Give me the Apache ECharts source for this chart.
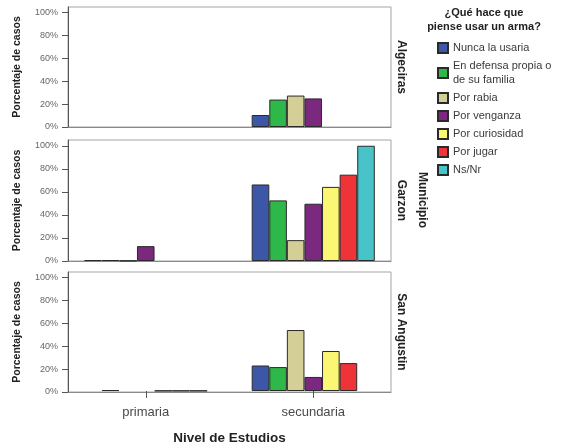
<!DOCTYPE html>
<html>
<head>
<meta charset="utf-8">
<script src="https://cdn.jsdelivr.net/npm/echarts@6/dist/echarts.min.js"></script>
<style>html,body{margin:0;padding:0;background:#fff}#c{width:566px;height:446px}</style>
</head>
<body>
<div id="c"></div>
<script>
// ---- data ----
const categories = ['primaria', 'secundaria'];
const seriesNames = ['Nunca la usaria', 'En defensa propia o\nde su familia', 'Por rabia', 'Por venganza', 'Por curiosidad', 'Por jugar', 'Ns/Nr'];
const seriesColors = ['#3c56a8', '#2fb84a', '#d4cf97', '#7a297e', '#fbf774', '#ee3339', '#48c3c8'];
const panelNames = ['Algeciras', 'Garzon', 'San Angustin'];
const yTicks = [0, 20, 40, 60, 80, 100];
// values per series (order of seriesNames): [primaria, secundaria]
const algecirasValues = [[null, 10.5], [null, 24], [null, 27.5], [null, 25], [null, null], [null, null], [null, null]];
const garzonValues = [[0.8, 66.4], [0.8, 52.6], [0.3, 18.1], [12.9, 49.7], [null, 64.3], [null, 74.9], [null, 100]];
const sanAngustinValues = [[null, 22.5], [0.8, 21.1], [null, 53.8], [null, 12.4], [0.3, 35.3], [0.3, 24.6], [0.3, null]];
const panelValues = [algecirasValues, garzonValues, sanAngustinValues];

// ---- layout ----
const FONT = '"Liberation Sans", Arial, sans-serif';
const Y_MAX = 105;
const panels = [
  { top: 7, height: 120 },
  { top: 140, height: 121 },
  { top: 272, height: 120 }
];
// frame grids (border + y axis) and bar grids (slightly wider, for category placement)
const frameGrids = panels.map(p => ({ left: 68, right: 175, top: p.top, height: p.height, show: true, borderColor: '#a5a5a5', borderWidth: 1, backgroundColor: '#fff' }));
const barGrids = panels.map(p => ({ left: 62, right: 169, top: p.top, height: p.height, show: false }));
const allGrids = frameGrids.concat(barGrids);
const N = panels.length;

const chart = echarts.init(document.getElementById('c'), null, { renderer: 'canvas', width: 566, height: 446 });

const xAxes = [];
const yAxes = [];
// frame axes
panels.forEach((p, i) => {
  xAxes.push({
    type: 'category', gridIndex: i, data: categories,
    axisLine: { show: true, lineStyle: { color: '#8a8a8a', width: 1 } },
    axisTick: { show: false }, axisLabel: { show: false }
  });
  yAxes.push({
    type: 'value', gridIndex: i, min: 0, max: Y_MAX,
    splitLine: { show: false },
    axisLine: { show: true, lineStyle: { color: '#555', width: 1 } },
    axisTick: { show: true, length: 6, customValues: yTicks, lineStyle: { color: '#555' } },
    axisLabel: { customValues: yTicks, formatter: v => v + '%', fontSize: 9, color: '#666', fontFamily: FONT, margin: 10 },
    name: 'Porcentaje de casos', nameLocation: 'middle', nameGap: 45, nameRotate: 90,
    nameTextStyle: { fontSize: 10.5, fontWeight: 'bold', color: '#222', fontFamily: FONT }
  });
});
// bar axes
panels.forEach((p, i) => {
  const last = i === N - 1;
  xAxes.push({
    type: 'category', gridIndex: N + i, data: categories,
    axisLine: { show: false },
    axisTick: { show: last, alignWithLabel: true, length: 7, lineStyle: { color: '#555' } },
    axisLabel: { show: last, fontSize: 13, color: '#4a4a4a', fontFamily: FONT, margin: 15 },
    name: last ? 'Nivel de Estudios' : '', nameLocation: 'middle', nameGap: 40,
    nameTextStyle: { fontSize: 13.5, fontWeight: 'bold', color: '#222', fontFamily: FONT }
  });
  yAxes.push({
    type: 'value', gridIndex: N + i, min: 0, max: Y_MAX, show: false, splitLine: { show: false }
  });
});

const series = [];
panelValues.forEach((vals, p) => {
  vals.forEach((data, s) => {
    series.push({
      type: 'bar', name: seriesNames[s], xAxisIndex: N + p, yAxisIndex: N + p,
      data: data, barGap: '0%', barCategoryGap: '26.5%',
      itemStyle: { color: seriesColors[s], borderColor: '#2a2a2a', borderWidth: 1 },
      emphasis: { disabled: true }, animation: false
    });
  });
});

const graphics = [
  { type: 'text', x: 484, y: 6, style: { text: '¿Qué hace que\npiense usar un arma?', font: 'bold 11px ' + FONT, fill: '#222', align: 'center', lineHeight: 14 } }
];
panels.forEach((g, i) => {
  graphics.push({
    type: 'text', x: 401, y: g.top + g.height / 2, rotation: -Math.PI / 2,
    style: { text: panelNames[i], font: 'bold 12px ' + FONT, fill: '#222', align: 'center', verticalAlign: 'middle' }
  });
});
graphics.push({
  type: 'text', x: 422, y: 200, rotation: -Math.PI / 2,
  style: { text: 'Municipio', font: 'bold 12px ' + FONT, fill: '#222', align: 'center', verticalAlign: 'middle' }
});

chart.setOption({
  animation: false,
  textStyle: { fontFamily: FONT },
  grid: allGrids,
  xAxis: xAxes,
  yAxis: yAxes,
  legend: {
    data: seriesNames, orient: 'vertical', left: 437, top: 41, padding: 0,
    itemWidth: 10, itemHeight: 10, itemGap: 4, icon: 'rect',
    textStyle: { fontSize: 11, color: '#3a3a3a', fontFamily: FONT, lineHeight: 14 },
    selectedMode: false
  },
  series: series,
  graphic: graphics
});
</script>
</body>
</html>
